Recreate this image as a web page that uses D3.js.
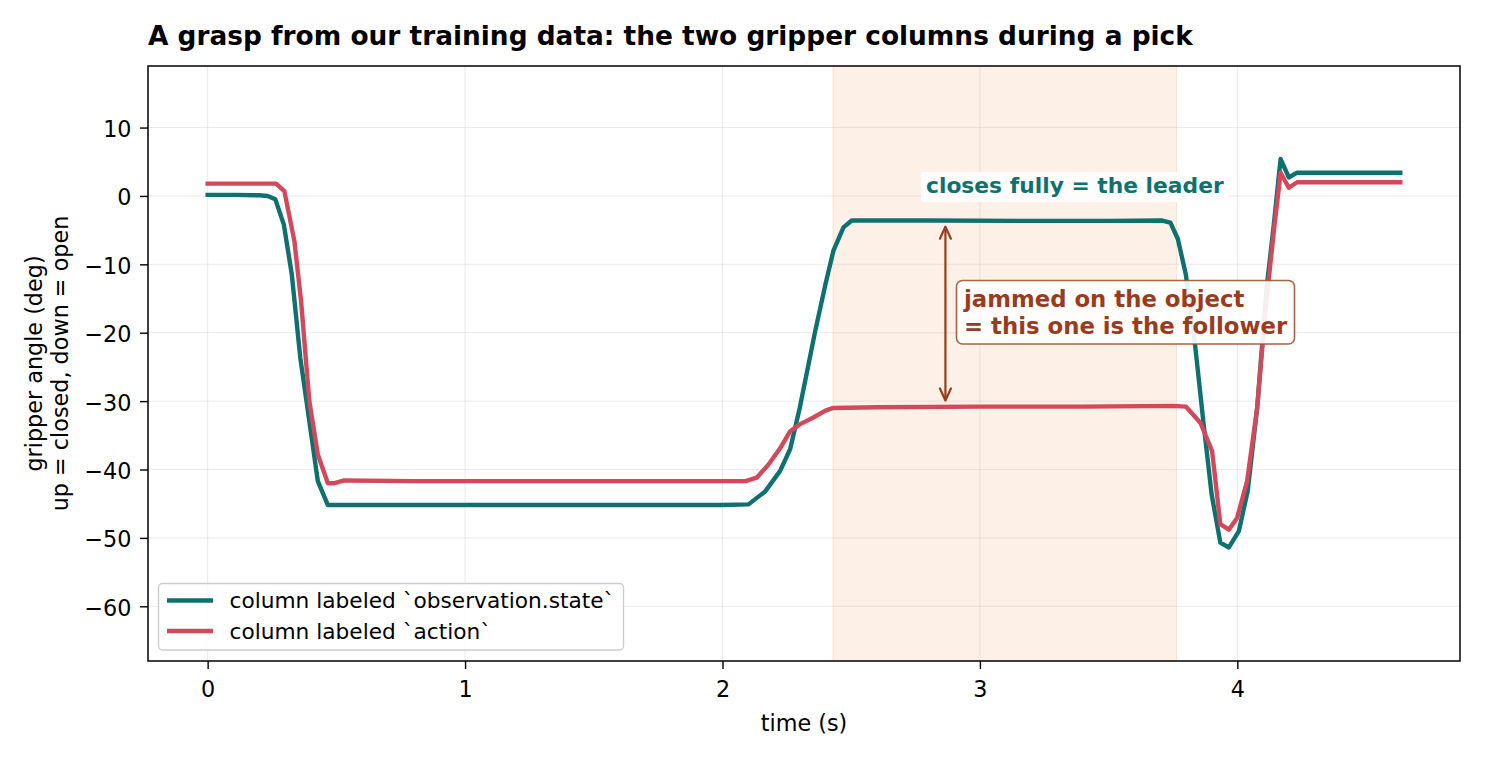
<!DOCTYPE html>
<html><head><meta charset="utf-8">
<script src="https://cdn.jsdelivr.net/npm/d3@7"></script>
<style>
html,body{margin:0;padding:0;background:#fff;}
text{font-family:"DejaVu Sans",sans-serif;}
</style></head>
<body><svg id="c" width="1485" height="758"></svg>
<script>
// ---- data ----
const stateT = [0,0.1,0.2,0.233,0.263,0.296,0.327,0.36,0.393,0.428,0.467,0.6,1.0,1.5,2.0,2.101,2.166,2.224,2.263,2.30,2.36,2.40,2.431,2.47,2.502,2.8,3.2,3.5,3.708,3.74,3.769,3.80,3.835,3.868,3.90,3.934,3.967,4.006,4.04,4.077,4.114,4.142,4.168,4.2,4.232,4.4,4.633];
const stateV = [0.15,0.15,0.1,0.0,-0.5,-4.2,-11.5,-23.7,-32.4,-41.7,-45.2,-45.2,-45.2,-45.2,-45.2,-45.1,-43.2,-40.2,-37,-31,-19.8,-12.9,-8.0,-4.6,-3.6,-3.6,-3.65,-3.65,-3.6,-3.9,-6.3,-11.5,-21.5,-33,-43.6,-50.7,-51.4,-49,-43.2,-31,-13.4,-4.1,5.4,2.7,3.4,3.4,3.4];
const actionT = [0,0.266,0.298,0.337,0.363,0.395,0.428,0.467,0.493,0.531,0.8,1.2,1.6,2.0,2.09,2.133,2.178,2.224,2.263,2.30,2.353,2.40,2.431,2.6,3.0,3.4,3.75,3.80,3.857,3.902,3.934,3.967,3.999,4.038,4.077,4.11,4.142,4.168,4.2,4.232,4.633];
const actionV = [1.8,1.8,0.7,-6.6,-15.4,-30.0,-37.8,-42.0,-42.0,-41.6,-41.7,-41.7,-41.7,-41.7,-41.7,-41.2,-39.3,-36.9,-34.4,-33.4,-32.4,-31.4,-31.0,-30.9,-30.8,-30.8,-30.7,-30.8,-33.2,-37.3,-48,-48.8,-47.1,-41.7,-31,-16.4,-5.1,3.4,1.2,2.0,2.0];
const seriesNames = ["column labeled `observation.state`","column labeled `action`"];
const xTicks = [0,1,2,3,4];
const yTicks = [-60,-50,-40,-30,-20,-10,0,10];
const band = [2.4295, 3.763];
const arrowT = 2.866, arrowFrom = -4.5, arrowTo = -29.9;
const title = "A grasp from our training data: the two gripper columns during a pick";
const xLabel = "time (s)";
const yLabel = ["gripper angle (deg)","up = closed, down = open"];
const leaderNote = "closes fully = the leader";
const followerNote = ["jammed on the object","= this one is the follower"];

// ---- styling ----
const teal = "#0f7070", red = "#d1495b", rust = "#993c1d";
const FS = 22.3;
const L = 148, R = 1460, T = 66, B = 661;
const svg = d3.select("#c");
const x = d3.scaleLinear().domain([-0.2317, 4.865]).range([L, R]);
const y = d3.scaleLinear().domain([-68, 19]).range([B, T]);

// band
svg.append("rect").attr("x", x(band[0])).attr("y", T).attr("width", x(band[1]) - x(band[0])).attr("height", B - T)
  .attr("fill", "#fdf0e6").attr("stroke", "#f6dcc8").attr("stroke-width", 0.8);

// grid
const grid = svg.append("g").attr("stroke", "#b0b0b0").attr("stroke-opacity", 0.25).attr("stroke-width", 1);
xTicks.forEach(t => grid.append("line").attr("x1", x(t)).attr("x2", x(t)).attr("y1", T).attr("y2", B));
yTicks.forEach(t => grid.append("line").attr("y1", y(t)).attr("y2", y(t)).attr("x1", L).attr("x2", R));

// lines
const line = d3.line().x(d => x(d[0])).y(d => y(d[1]));
const sData = stateT.map((t, i) => [t, stateV[i]]);
const aData = actionT.map((t, i) => [t, actionV[i]]);
svg.append("path").datum(sData).attr("d", line).attr("fill", "none").attr("stroke", teal)
  .attr("stroke-width", 4.4).attr("stroke-linejoin", "round").attr("stroke-linecap", "square");
svg.append("path").datum(aData).attr("d", line).attr("fill", "none").attr("stroke", red)
  .attr("stroke-width", 4.4).attr("stroke-linejoin", "round").attr("stroke-linecap", "square");

// axes
const xa = svg.append("g").attr("transform", `translate(0,${B})`)
  .call(d3.axisBottom(x).tickValues(xTicks).tickFormat(d3.format("d")).tickSize(8).tickPadding(8));
const ya = svg.append("g").attr("transform", `translate(${L},0)`)
  .call(d3.axisLeft(y).tickValues(yTicks).tickFormat(d3.format("d")).tickSize(8).tickPadding(8.5));
[xa, ya].forEach(g => {
  g.select(".domain").remove();
  g.selectAll("line").attr("stroke", "#000").attr("stroke-width", 1.4);
  g.selectAll("text").attr("font-size", FS).attr("fill", "#000").attr("font-family", "DejaVu Sans");
});
xa.selectAll("text").attr("y", 36).attr("dy", null);
ya.selectAll("text").attr("dy", 9);
svg.append("rect").attr("x", L).attr("y", T).attr("width", R - L).attr("height", B - T)
  .attr("fill", "none").attr("stroke", "#000").attr("stroke-width", 1.5);

// labels
svg.append("text").attr("x", L).attr("y", 45).attr("font-size", 26.4).attr("font-weight", "bold").text(title);
svg.append("text").attr("x", (L + R) / 2).attr("y", 731).attr("text-anchor", "middle").attr("font-size", FS).text(xLabel);
yLabel.forEach((s, i) => {
  svg.append("text").attr("transform", `translate(${42 + i * 26},${(T + B) / 2}) rotate(-90)`)
    .attr("text-anchor", "middle").attr("font-size", FS).text(s);
});

// arrow
const defs = svg.append("defs");
defs.append("marker").attr("id", "ah").attr("viewBox", "-16 -8 18 16").attr("refX", 0).attr("refY", 0)
  .attr("markerWidth", 18).attr("markerHeight", 16).attr("markerUnits", "userSpaceOnUse").attr("orient", "auto-start-reverse")
  .append("path").attr("d", "M-12,-5.5 L0,0 L-12,5.5").attr("fill", "none").attr("stroke", rust).attr("stroke-width", 2.2).attr("stroke-linecap", "round").attr("stroke-linejoin", "round");
svg.append("line").attr("x1", x(arrowT)).attr("x2", x(arrowT)).attr("y1", y(arrowFrom)).attr("y2", y(arrowTo))
  .attr("stroke", rust).attr("stroke-width", 2.2).attr("marker-start", "url(#ah)").attr("marker-end", "url(#ah)");

// leader note
svg.append("rect").attr("x", 921).attr("y", 172).attr("width", 307).attr("height", 30).attr("rx", 3)
  .attr("fill", "#fff").attr("fill-opacity", 0.85);
svg.append("text").attr("x", 926).attr("y", 193).attr("font-size", 21.8).attr("font-weight", "bold").attr("fill", teal).text(leaderNote);

// follower note
svg.append("rect").attr("x", 956.5).attr("y", 280.5).attr("width", 338).attr("height", 63.5).attr("rx", 6)
  .attr("fill", "#fff").attr("fill-opacity", 0.9).attr("stroke", "#a0522d").attr("stroke-opacity", 0.9).attr("stroke-width", 1.6);
followerNote.forEach((s, i) => {
  svg.append("text").attr("x", 964).attr("y", 307 + i * 26.5).attr("font-size", 22.8).attr("font-weight", "bold").attr("fill", rust).text(s);
});

// legend
const lg = svg.append("g");
lg.append("rect").attr("x", 158.5).attr("y", 583.5).attr("width", 465).attr("height", 66.5).attr("rx", 4)
  .attr("fill", "#fff").attr("fill-opacity", 0.8).attr("stroke", "#cccccc").attr("stroke-width", 1.4);
[teal, red].forEach((c, i) => {
  const yy = 600.5 + i * 30.5;
  lg.append("line").attr("x1", 167).attr("x2", 213).attr("y1", yy).attr("y2", yy).attr("stroke", c).attr("stroke-width", 4.4);
  lg.append("text").attr("x", 229.5).attr("y", yy + 7.5).attr("font-size", 21.7).text(seriesNames[i]);
});
</script></body></html>
